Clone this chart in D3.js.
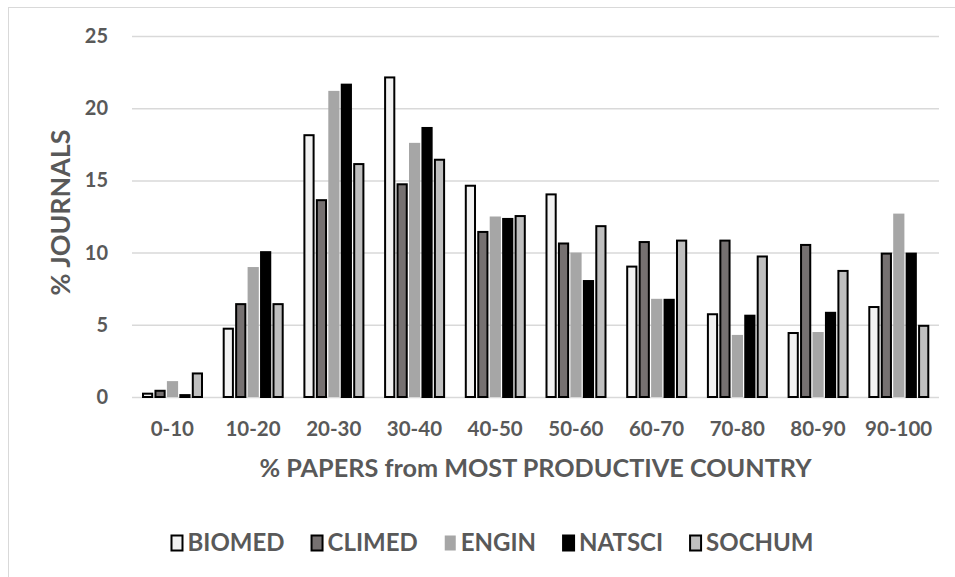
<!DOCTYPE html>
<html><head><meta charset="utf-8">
<script src="https://cdn.jsdelivr.net/npm/d3@7"></script>
<style>
body{margin:0;background:#fff}
text{font-family:Lato,"Open Sans",sans-serif;font-weight:700;fill:#595959}
</style>
</head><body>
<svg id="c" width="955" height="577"></svg>
<script>
const categories = ["0-10","10-20","20-30","30-40","40-50","50-60","60-70","70-80","80-90","90-100"];
const seriesNames = ["BIOMED","CLIMED","ENGIN","NATSCI","SOCHUM"];
const biomed = [0.3,4.8,18.2,22.2,14.7,14.1,9.1,5.8,4.5,6.3];
const climed = [0.5,6.5,13.7,14.8,11.5,10.7,10.8,10.9,10.6,10.0];
const engin  = [1.1,9.0,21.2,17.6,12.5,10.0,6.8,4.3,4.5,12.7];
const natsci = [0.2,10.1,21.7,18.7,12.4,8.1,6.8,5.7,5.9,10.0];
const sochum = [1.7,6.5,16.2,16.5,12.6,11.9,10.9,9.8,8.8,5.0];
const yTicks = [0,5,10,15,20,25];
const yTitle = "% JOURNALS";
const xTitle = "% PAPERS from MOST PRODUCTIVE COUNTRY";

const seriesValues = [biomed, climed, engin, natsci, sochum];
const fills = ["#f2f2f2","#767171","#a6a6a6","#000000","#bfbfbf"];
const strokes = ["#000","#000",null,"#000","#000"];

const svg = d3.select("#c");
const L = 132, R = 939, T = 36, B = 397;
const FONT = "Lato,'Open Sans',sans-serif";

// chart area border
svg.append("rect").attr("x",8.5).attr("y",7.5).attr("width",980).attr("height",620)
  .attr("fill","none").attr("stroke","#d9d9d9").attr("stroke-width",1);

const x0 = d3.scaleBand().domain(categories).range([L,R]).paddingInner(0).paddingOuter(0);
const x1 = d3.scaleBand().domain(seriesNames).range([10,71]).paddingInner(0.1);
const y = d3.scaleLinear().domain([0,25]).range([B,T]);

// y axis with gridlines
const yAxis = svg.append("g").attr("transform",`translate(${L},0)`)
  .call(d3.axisLeft(y).tickValues(yTicks).tickSize(-(R-L)).tickPadding(24).tickFormat(d3.format("d")));
yAxis.select(".domain").remove();
yAxis.selectAll(".tick line").attr("stroke","#d9d9d9").attr("stroke-width",1.5);
yAxis.selectAll(".tick text").attr("font-size",20).style("font-family",FONT).attr("fill","#595959");

// bars
const rows = categories.map((c,i)=>({cat:c, vals:seriesNames.map((s,j)=>({s, j, v:seriesValues[j][i]}))}));
const groups = svg.append("g").selectAll("g").data(rows).join("g")
  .attr("transform",d=>`translate(${x0(d.cat)},0)`);
groups.selectAll("rect").data(d=>d.vals).join("rect")
  .attr("x",d=> strokes[d.j] ? x1(d.s)+1 : x1(d.s))
  .attr("width",d=> strokes[d.j] ? x1.bandwidth()-2 : x1.bandwidth())
  .attr("y",d=> strokes[d.j] ? y(d.v)+1 : y(d.v))
  .attr("height",d=> Math.max(0, B - y(d.v) - (strokes[d.j]?1:0)))
  .attr("fill",d=>fills[d.j])
  .attr("stroke",d=>strokes[d.j] || "none")
  .attr("stroke-width",2);

// x axis
const xAxis = svg.append("g").attr("transform",`translate(0,${B})`)
  .call(d3.axisBottom(x0).tickSize(0).tickPadding(24));
xAxis.select(".domain").remove();
xAxis.selectAll(".tick text").attr("font-size",20.5).style("font-family",FONT).attr("fill","#595959");

// titles
svg.append("text").attr("x",(L+R)/2).attr("y",468).attr("dy","0.35em")
  .attr("text-anchor","middle").attr("font-size",25)
  .attr("textLength",552).attr("lengthAdjust","spacingAndGlyphs").text(xTitle);
svg.append("text").attr("transform",`translate(61,${(T+B)/2 - 4}) rotate(-90)`).attr("dy","0.35em")
  .attr("text-anchor","middle").attr("font-size",26)
  .attr("textLength",166).attr("lengthAdjust","spacingAndGlyphs").text(yTitle);

// legend
const lg = svg.append("g");
const items = lg.selectAll("g").data(seriesNames).join("g");
items.append("rect").attr("x",1).attr("width",11).attr("height",15).attr("y",-7.5)
  .attr("fill",(d,i)=>fills[i]).attr("stroke",(d,i)=>strokes[i]||"none").attr("stroke-width",2);
items.append("text").attr("x",17).attr("dy","0.35em").attr("font-size",24).text(d=>d);
let xpos = 0; const gap = 26;
items.each(function(){
  const w = 17 + this.querySelector("text").getComputedTextLength();
  d3.select(this).attr("transform",`translate(${xpos},0)`);
  xpos += w + gap;
});
const total = xpos - gap;
lg.attr("transform",`translate(${492 - total/2},543)`);
</script>
</body></html>
